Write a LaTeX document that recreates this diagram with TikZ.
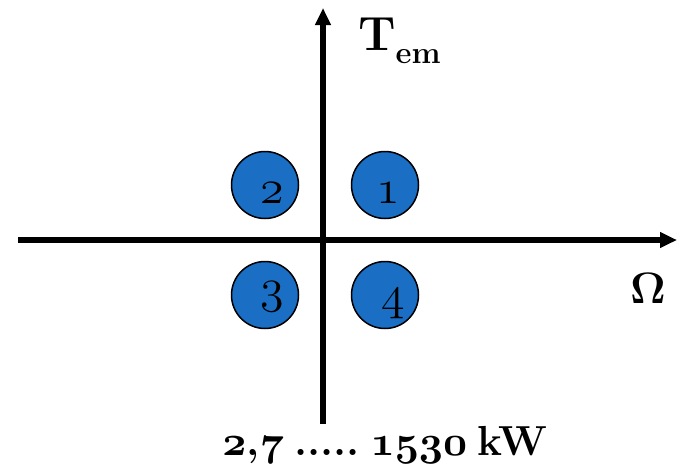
\RequirePackage{fix-cm}
\documentclass[tikz,border=0pt]{standalone}
\usetikzlibrary{arrows.meta}
\definecolor{cblue}{HTML}{1A6FC4}
\newcommand{\osn}[1]{{\usefont{OML}{cmm}{m}{it}#1}}
\newcommand{\osnb}[1]{{\usefont{OML}{cmm}{b}{it}#1}}
\begin{document}
\begin{tikzpicture}[x=1pt,y=-1pt,
  axis/.style={line width=5.5pt,-{Triangle[length=17pt,width=15pt]}},
  quad/.style={circle,draw=black,line width=1.5pt,fill=cblue,minimum size=67pt,inner sep=0pt},
  qnum/.style={font=\fontsize{48}{48}\selectfont,inner sep=0pt}]
\useasboundingbox (0,0) rectangle (677,469);
\coordinate (ybot) at (323,424);
\coordinate (ytop) at (323,8);
\coordinate (xl) at (18,240);
\coordinate (xr) at (677,240);
\draw[axis] (ybot) -- (ytop);
\draw[axis] (xl) -- (xr);
\node[quad] (c1) at (385,185) {};
\node[quad] (c2) at (265,185) {};
\node[quad] (c3) at (265,295) {};
\node[quad] (c4) at (385,295) {};
\node[qnum,anchor=base] (n1) at (388,203) {\osn{1}};
\node[qnum,anchor=base] (n2) at (272,203) {\osn{2}};
\node[qnum,anchor=base] (n3) at (272,302) {\osn{3}};
\node[qnum,anchor=base] (n4) at (393,309) {\osn{4}};
\node[anchor=base west,inner sep=0pt,font=\bfseries\fontsize{48}{48}\selectfont] (tem) at (358,50) {T\raisebox{-13pt}{\fontsize{31}{31}\selectfont em}};
\node[anchor=base,inner sep=0pt,font=\fontsize{44}{44}\selectfont] (omega) at (648,303) {$\mathbf{\Omega}$};
\node[anchor=base,inner sep=0pt,font=\bfseries\fontsize{42}{42}\selectfont] (pw) at (385,455) {\osnb{2},\osnb{7}\hspace{0.25em}.....\hspace{0.25em}\osnb{1530}\hspace{0.25em}kW};
\end{tikzpicture}
\end{document}
